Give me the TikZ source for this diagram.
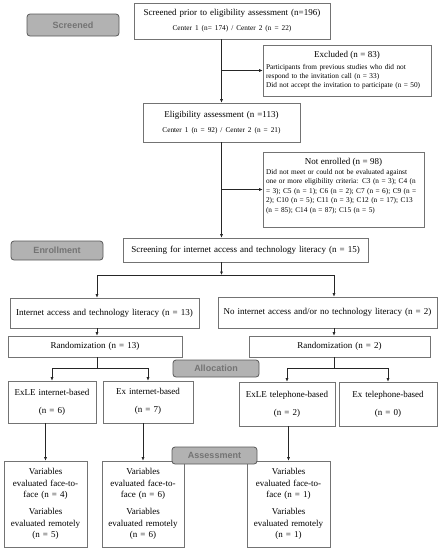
\documentclass[tikz,border=0pt]{standalone}
\usepackage{fontspec}
\setmainfont{Liberation Serif}
\newfontfamily\lsans{Liberation Sans}
\usetikzlibrary{arrows.meta}
\tikzset{
  box/.style={draw=black!55, line width=0.6pt, inner sep=0pt, align=center, font=\fontsize{9}{11}\selectfont},
  note/.style={draw=black!55, line width=0.6pt, inner xsep=3pt, inner ysep=0pt, align=left, font=\fontsize{7.3}{9.4}\selectfont},
  lab/.style={draw=black!65, fill=black!30, rounded corners=3pt, line width=0.8pt, inner sep=0pt,
    font=\lsans\bfseries\fontsize{9}{10}\selectfont, text=black!55},
  arr/.style={-{Latex[length=3.5pt,width=3pt]}, draw=black!85, line width=0.6pt},
  ln/.style={draw=black!85, line width=0.6pt}
}
\newcommand{\smalltx}{\fontsize{7.3}{9}\selectfont}
\newcommand{\bigtx}{\fontsize{9}{11}\selectfont}
\begin{document}
\begin{tikzpicture}[x=1pt,y=-1pt]
\useasboundingbox (0,0) rectangle (441,550);
% boxes
\node[box, minimum width=196pt, minimum height=36pt, text width=190pt] (top) at (232,21)
  {Screened prior to eligibility assessment (n=196)\\[4pt]{\smalltx Center 1 (n= 174) / Center 2 (n = 22)}};
\node[note, minimum width=168pt, minimum height=51pt, text width=162pt] (excl) at (347,70.5)
  {\makebox[162pt][c]{\bigtx Excluded (n = 83)}\\[2pt]
   \mbox{Participants from previous studies who did not}\\
   \mbox{respond to the invitation call (n = 33)}\\
   \mbox{Did not accept the invitation to participate (n = 50)}};
\node[box, minimum width=157pt, minimum height=39pt, text width=150pt] (elig) at (221.5,122.5)
  {Eligibility assessment (n =113)\\[4pt]{\smalltx Center 1 (n = 92) / Center 2 (n = 21)}};
\node[note, minimum width=161pt, minimum height=75pt, text width=155pt] (notenr) at (343.5,189.5)
  {\makebox[155pt][c]{\bigtx Not enrolled (n = 98)}\\[1pt]
   \mbox{Did not meet or could not be evaluated against}\\
   \mbox{one or more eligibility criteria: C3 (n = 3); C4 (n}\\
   \mbox{= 3); C5 (n = 1); C6 (n = 2); C7 (n = 6); C9 (n =}\\
   \mbox{2); C10 (n = 5); C11 (n = 3); C12 (n = 17); C13}\\
   \mbox{(n = 85); C14 (n = 87); C15 (n = 5)}\rule[-9pt]{0pt}{9pt}};
\node[box, minimum width=245pt, minimum height=24pt, text width=240pt] (scr) at (245.5,250)
  {Screening for internet access and technology literacy (n = 15)};
\node[box, minimum width=189pt, minimum height=30pt, text width=185pt] (inet) at (104.5,313)
  {Internet access and technology literacy (n = 13)};
\node[box, minimum width=219pt, minimum height=31pt, text width=215pt] (noinet) at (327.5,312.5)
  {No internet access and/or no technology literacy (n = 2)\rule[-3pt]{0pt}{3pt}};
\node[box, minimum width=174pt, minimum height=21pt, text width=170pt] (rand13) at (95,346.5)
  {Randomization (n = 13)};
\node[box, minimum width=181pt, minimum height=21pt, text width=177pt] (rand2) at (339.5,346.5)
  {Randomization (n = 2)};
\node[box, minimum width=88pt, minimum height=42pt, text width=86pt] (exlei) at (52,402)
  {ExLE internet-based\\[7pt](n = 6)};
\node[box, minimum width=90pt, minimum height=42pt, text width=88pt] (exi) at (148,402)
  {Ex internet-based\\[7pt](n = 7)\rule[-3pt]{0pt}{3pt}};
\node[box, minimum width=96pt, minimum height=44pt, text width=94pt] (exlet) at (287,404)
  {ExLE telephone-based\\[7pt](n = 2)};
\node[box, minimum width=98pt, minimum height=44pt, text width=96pt] (ext) at (388,404)
  {Ex telephone-based\\[7pt](n = 0)};
\node[box, minimum width=83pt, minimum height=86pt, text width=81pt, font=\fontsize{9}{11.6}\selectfont] (v1) at (45.5,504)
  {Variables\\ evaluated face-to-\\ face (n = 4)\\[5pt] Variables\\ evaluated remotely\\ (n = 5)};
\node[box, minimum width=82pt, minimum height=86pt, text width=80pt, font=\fontsize{9}{11.6}\selectfont] (v2) at (143,504)
  {Variables\\ evaluated face-to-\\ face (n = 6)\\[5pt] Variables\\ evaluated remotely\\ (n = 6)};
\node[box, minimum width=83pt, minimum height=86pt, text width=81pt, font=\fontsize{9}{11.6}\selectfont] (v3) at (288.5,504)
  {Variables\\ evaluated face-to-\\ face (n = 1)\\[5pt] Variables\\ evaluated remotely\\ (n = 1)};
% connectors
\draw[arr] (top.south -| elig.north) -- (elig.north);
\draw[arr] (excl.west -| elig.north) -- (excl.west);
\draw[arr] (elig.south) -- (elig.south |- scr.north);
\draw[arr] (notenr.west -| elig.south) -- (notenr.west);
\coordinate (jl) at (97,275);
\coordinate (jr) at (334,275);
\draw[arr] (elig.south |- scr.south) -- (elig.south |- jl);
\draw[ln] (jl) -- (jr);
\draw[arr] (jl) -- (jl |- inet.north);
\draw[arr] (jr) -- (jr |- noinet.north);
\draw[arr] (jl |- inet.south) -- (jl |- rand13.north);
\draw[arr] (jr |- noinet.south) -- (jr |- rand2.north);
\coordinate (bl) at (97,368);
\coordinate (br) at (334,368);
\draw[ln] (bl |- rand13.south) -- (bl);
\draw[ln] (br |- rand2.south) -- (br);
\draw[ln] (exlei.north |- bl) -- (exi.north |- bl);
\draw[ln] (exlet.north |- br) -- (ext.north |- br);
\draw[arr] (exlei.north |- bl) -- (exlei.north);
\draw[arr] (exi.north |- bl) -- (exi.north);
\draw[arr] (exlet.north |- br) -- (exlet.north);
\draw[arr] (ext.north |- br) -- (ext.north);
\draw[arr] (v1.north |- exlei.south) -- (v1.north);
\draw[arr] (v2.north |- exi.south) -- (v2.north);
\draw[arr] (v3.north |- exlet.south) -- (v3.north);
% stage labels
\node[lab, minimum width=92pt, minimum height=22pt] (lscr) at (73,25) {Screened};
\node[lab, minimum width=92pt, minimum height=19pt] (lenr) at (57,250.5) {Enrollment};
\node[lab, minimum width=86pt, minimum height=17pt] (lall) at (216,368.5) {Allocation};
\node[lab, minimum width=85pt, minimum height=17pt] (lass) at (214.5,455.5) {Assessment};
\end{tikzpicture}
\end{document}
